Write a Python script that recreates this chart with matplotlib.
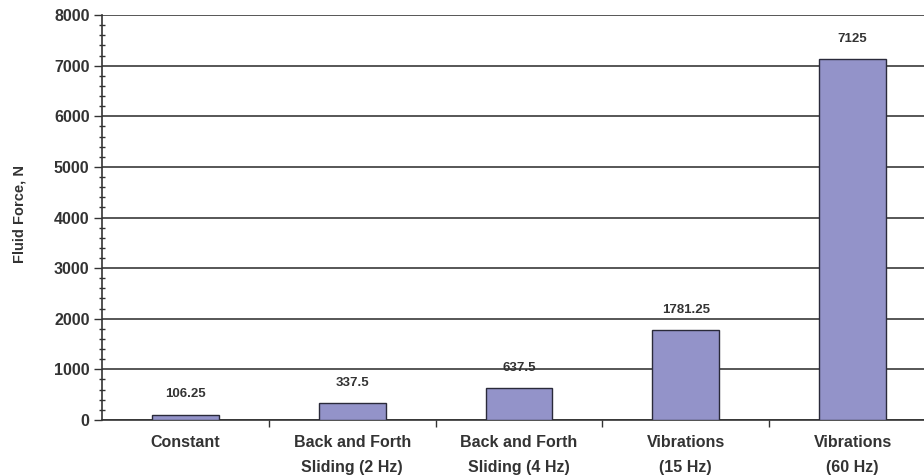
import matplotlib
matplotlib.use("Agg")
import matplotlib.pyplot as plt
from matplotlib.ticker import MultipleLocator

plt.rcParams['font.family'] = ['Liberation Sans', 'DejaVu Sans']
plt.rcParams['font.weight'] = 'bold'

# data
categories = ["Constant", "Back and Forth\nSliding (2 Hz)", "Back and Forth\nSliding (4 Hz)",
              "Vibrations\n(15 Hz)", "Vibrations\n(60 Hz)"]
forces = [106.25, 337.5, 637.5, 1781.25, 7125]
value_labels = ["106.25", "337.5", "637.5", "1781.25", "7125"]

fig = plt.figure(figsize=(9.24, 4.75), dpi=100)
# axes runs past the right edge, as in the original picture
ax = fig.add_axes([0.1104, 0.1158, 0.9026, 0.8526])

x = range(len(categories))
ax.bar(x, forces, width=0.4, color="#9393c9", edgecolor="#2a2a3a", linewidth=1.0, zorder=3)

for xi, v, lab in zip(x, forces, value_labels):
    ax.annotate(lab, (xi, v), xytext=(0, 14.5), textcoords="offset points",
                ha="center", va="center", fontsize=9.5, color="#333333")

ax.set_xlim(-0.5, len(categories) - 0.5)
ax.set_ylim(0, 8000)
ax.yaxis.set_major_locator(MultipleLocator(1000))
ax.yaxis.set_minor_locator(MultipleLocator(200))
ax.grid(axis="y", which="major", color="#3a3a3a", linewidth=1.2, zorder=0)
# top gridline is lighter in the original
ax.get_ygridlines()[-1].set_color("#a0a0a0")

ax.set_xticks([i + 0.5 for i in range(len(categories) - 1)])
ax.set_xticklabels([])
ax.set_xticks(list(x), minor=True)
ax.set_xticklabels(categories, minor=True, fontsize=11.5, color="#333333", linespacing=1.8)
ax.tick_params(axis="x", which="minor", length=0, pad=11)
ax.tick_params(axis="x", which="major", length=5, width=1, color="#333333", direction="out")
ax.tick_params(axis="y", which="major", length=6, width=1, color="#333333", labelsize=11.5,
               labelcolor="#333333", pad=3)
ax.tick_params(axis="y", which="minor", length=5, width=1, color="#333333", direction="inout")
for lab in ax.get_yticklabels():
    lab.set_fontweight("bold")

ax.spines["top"].set_visible(False)
ax.spines["right"].set_visible(False)
ax.spines["left"].set_color("#333333")
ax.spines["bottom"].set_color("#333333")
ax.spines["left"].set_linewidth(1.2)
ax.spines["bottom"].set_linewidth(1.2)

fig.text(0.021, 0.55, "Fluid Force, N", rotation=90, ha="center", va="center",
         fontsize=10.5, color="#333333")

fig.savefig("out.png", dpi=100)
